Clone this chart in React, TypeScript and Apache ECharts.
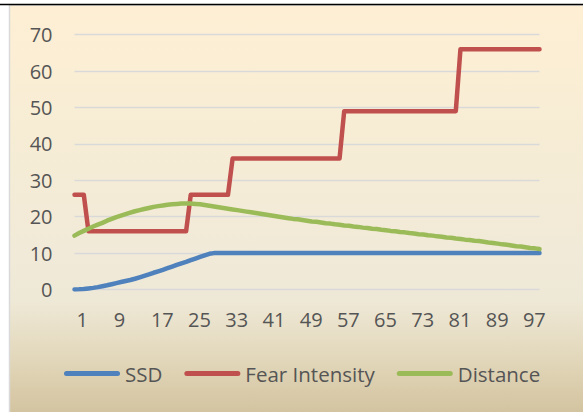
import React, { useEffect, useRef } from "react";
import * as echarts from "echarts";

const categories: string[] = Array.from({ length: 101 }, (_, i) => String(i + 1));

const yTicks = { min: 0, max: 70, interval: 10 };

const ssd: number[] = [
  0, 0.05, 0.15, 0.3, 0.45, 0.65, 0.9, 1.15, 1.45, 1.75,
  2.05, 2.35, 2.6, 2.95, 3.35, 3.75, 4.15, 4.6, 5.0, 5.4,
  5.85, 6.3, 6.75, 7.2, 7.6, 8.05, 8.5, 8.95, 9.4, 9.8,
  10, 10, 10, 10, 10, 10, 10, 10, 10, 10,
  10, 10, 10, 10, 10, 10, 10, 10, 10, 10,
  10, 10, 10, 10, 10, 10, 10, 10, 10, 10,
  10, 10, 10, 10, 10, 10, 10, 10, 10, 10,
  10, 10, 10, 10, 10, 10, 10, 10, 10, 10,
  10, 10, 10, 10, 10, 10, 10, 10, 10, 10,
  10, 10, 10, 10, 10, 10, 10, 10, 10, 10,
  10,
];

const fearIntensity: number[] = [
  26, 26, 26, 16, 16, 16, 16, 16, 16, 16,
  16, 16, 16, 16, 16, 16, 16, 16, 16, 16,
  16, 16, 16, 16, 16, 26, 26, 26, 26, 26,
  26, 26, 26, 26, 36, 36, 36, 36, 36, 36,
  36, 36, 36, 36, 36, 36, 36, 36, 36, 36,
  36, 36, 36, 36, 36, 36, 36, 36, 49, 49,
  49, 49, 49, 49, 49, 49, 49, 49, 49, 49,
  49, 49, 49, 49, 49, 49, 49, 49, 49, 49,
  49, 49, 49, 66, 66, 66, 66, 66, 66, 66,
  66, 66, 66, 66, 66, 66, 66, 66, 66, 66,
  66,
];

const distance: number[] = [
  14.8, 15.5, 16.1, 16.7, 17.3, 17.8, 18.3, 18.9, 19.4, 19.9,
  20.3, 20.7, 21.1, 21.5, 21.8, 22.1, 22.4, 22.7, 22.9, 23.1,
  23.3, 23.4, 23.5, 23.6, 23.6, 23.6, 23.5, 23.4, 23.2, 23.0,
  22.8, 22.6, 22.4, 22.2, 22.0, 21.8, 21.6, 21.4, 21.2, 21.0,
  20.8, 20.6, 20.4, 20.2, 20.0, 19.8, 19.6, 19.4, 19.3, 19.1,
  18.9, 18.7, 18.6, 18.4, 18.2, 18.1, 17.9, 17.8, 17.6, 17.5,
  17.3, 17.2, 17.0, 16.9, 16.7, 16.6, 16.4, 16.3, 16.1, 16.0,
  15.8, 15.7, 15.5, 15.4, 15.2, 15.1, 14.9, 14.8, 14.6, 14.5,
  14.3, 14.2, 14.0, 13.9, 13.7, 13.6, 13.4, 13.3, 13.1, 12.9,
  12.8, 12.6, 12.4, 12.3, 12.1, 11.9, 11.8, 11.6, 11.4, 11.3,
  11.1,
];

const seriesNames = ["SSD", "Fear Intensity", "Distance"];
const seriesColors = ["#4F81BD", "#C0504D", "#9BBB59"];

const FONT = "'Open Sans', 'DejaVu Sans', sans-serif";
const TEXT = "#555555";

export default function App() {
  const ref = useRef<HTMLDivElement>(null);

  useEffect(() => {
    if (!ref.current) return;
    const chart = echarts.init(ref.current, undefined, { renderer: "svg" });
    const values = [ssd, fearIntensity, distance];
    chart.setOption({
      animation: false,
      backgroundColor: "#ffffff",
      graphic: [
        {
          type: "rect",
          z: -10,
          silent: true,
          shape: { x: 9.5, y: 5, width: 580, height: 412 },
          style: {
            fill: new echarts.graphic.LinearGradient(0, 0, 0, 1, [
              { offset: 0, color: "#FEEFD4" },
              { offset: 0.3, color: "#F7EDD5" },
              { offset: 0.6, color: "#F1EAD8" },
              { offset: 0.72, color: "#EEE8D6" },
              { offset: 0.86, color: "#E2D7BA" },
              { offset: 1, color: "#D2C29E" },
            ]),
            stroke: "#D9D9D9",
            lineWidth: 1.5,
          },
        },
        {
          type: "line",
          z: 10,
          silent: true,
          shape: { x1: 0, y1: 4.5, x2: 583, y2: 4.5 },
          style: { stroke: "#000000", lineWidth: 1.5 },
        },
      ],
      grid: {
        left: 74.5,
        right: 43.5,
        top: 34.7,
        bottom: 122.5,
        containLabel: false,
        outerBoundsMode: "none",
      },
      legend: {
        data: seriesNames,
        left: 64,
        top: 363,
        padding: 0,
        itemWidth: 56,
        itemHeight: 5,
        itemGap: 22,
        icon: "path://M2.5 0H53.5A2.5 2.5 0 0 1 53.5 5H2.5A2.5 2.5 0 0 1 2.5 0Z",
        textStyle: { fontSize: 20.5, color: TEXT, fontFamily: FONT },
      },
      xAxis: {
        type: "category",
        data: categories,
        boundaryGap: false,
        axisLine: { show: false },
        axisTick: { show: false },
        splitLine: { show: false },
        axisLabel: {
          interval: 7,
          align: "left",
          padding: [0, 0, 0, 2],
          margin: 20,
          fontSize: 20,
          color: TEXT,
          fontFamily: FONT,
        },
      },
      yAxis: {
        type: "value",
        min: yTicks.min,
        max: yTicks.max,
        interval: yTicks.interval,
        axisLine: { show: false },
        axisTick: { show: false },
        splitLine: { lineStyle: { color: "#D9D9D9", width: 1.3 } },
        axisLabel: { margin: 22, fontSize: 20, color: TEXT, fontFamily: FONT },
      },
      series: seriesNames.map((name, k) => ({
        name,
        type: "line",
        data: values[k],
        symbol: "none",
        showSymbol: false,
        color: seriesColors[k],
        lineStyle: { width: 4.5, color: seriesColors[k], cap: "round", join: "round" },
      })),
    });
    return () => chart.dispose();
  }, []);

  return (
    <div
      ref={ref}
      style={{ position: "absolute", left: 0, top: 0, width: 583, height: 412 }}
    />
  );
}
